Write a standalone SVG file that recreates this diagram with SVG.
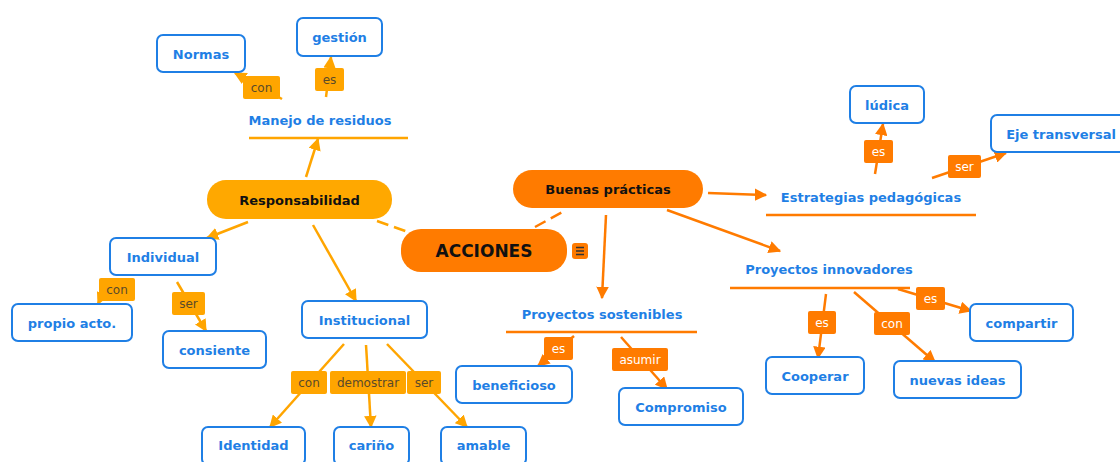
<svg xmlns="http://www.w3.org/2000/svg" width="1120" height="462" viewBox="0 0 1120 462">
<defs>
<style>
.box{fill:#fff;stroke:#1f7fe5;stroke-width:2}
.bt{font-family:"DejaVu Sans",Verdana,sans-serif;font-weight:bold;font-size:13px;fill:#1f7fe5;text-anchor:middle;dominant-baseline:central}
.la{fill:#ffa500}
.lo{fill:#ff7b00}
.lta{font-family:"DejaVu Sans",Verdana,sans-serif;font-size:12px;fill:#5a4a2a;text-anchor:middle;dominant-baseline:central}
.lto{font-family:"DejaVu Sans",Verdana,sans-serif;font-size:12px;fill:#fff;text-anchor:middle;dominant-baseline:central}
.ca{stroke:#ffa500;stroke-width:2.5;fill:none}
.co{stroke:#ff7b00;stroke-width:2.5;fill:none}
.aa{marker-end:url(#ma)}
.ao{marker-end:url(#mo)}
.da{stroke-dasharray:12,6}
</style>
<marker id="ma" viewBox="0 0 10 10" refX="9" refY="5" markerWidth="5" markerHeight="5" orient="auto" markerUnits="strokeWidth"><path d="M0,0 L10,5 L0,10 Z" fill="#ffa500"/></marker>
<marker id="mo" viewBox="0 0 10 10" refX="9" refY="5" markerWidth="5" markerHeight="5" orient="auto" markerUnits="strokeWidth"><path d="M0,0 L10,5 L0,10 Z" fill="#ff7b00"/></marker>
</defs>
<rect width="1120" height="462" fill="#fff"/>
<g id="connectors">
<line class="ca da" x1="377" y1="221" x2="408" y2="232"/>
<line class="co da" x1="535" y1="227" x2="566" y2="210"/>
<line class="ca aa" x1="306" y1="177" x2="318" y2="139"/>
<line class="ca" x1="249" y1="138" x2="408" y2="138"/>
<line class="ca aa" x1="282" y1="99" x2="235" y2="73"/>
<line class="ca aa" x1="326" y1="97" x2="331" y2="57"/>
<line class="ca aa" x1="248" y1="222" x2="207" y2="238"/>
<line class="ca aa" x1="108" y1="282" x2="98" y2="304"/>
<line class="ca aa" x1="177" y1="282" x2="206" y2="331"/>
<line class="ca aa" x1="313" y1="225" x2="356" y2="301"/>
<line class="ca aa" x1="344" y1="344" x2="270" y2="427"/>
<line class="ca aa" x1="366" y1="345" x2="371" y2="427"/>
<line class="ca aa" x1="387" y1="344" x2="467" y2="427"/>
<line class="co ao" x1="708" y1="193" x2="766" y2="195"/>
<line class="co" x1="766" y1="215" x2="976" y2="215"/>
<line class="co ao" x1="875" y1="174" x2="883" y2="124"/>
<line class="co ao" x1="932" y1="178" x2="1006" y2="153"/>
<line class="co ao" x1="606" y1="215" x2="602" y2="298"/>
<line class="co" x1="506" y1="332" x2="697" y2="332"/>
<line class="co ao" x1="574" y1="336" x2="538" y2="366"/>
<line class="co ao" x1="621" y1="337" x2="667" y2="389"/>
<line class="co ao" x1="667" y1="210" x2="780" y2="251"/>
<line class="co" x1="730" y1="288" x2="910" y2="288"/>
<line class="co ao" x1="826" y1="294" x2="818" y2="358"/>
<line class="co ao" x1="854" y1="292" x2="935" y2="362"/>
<line class="co ao" x1="898" y1="289" x2="971" y2="311"/>
<rect class="la" x="243" y="76" width="37" height="23" rx="2"/><text class="lta" x="261.5" y="88">con</text>
<rect class="la" x="315" y="68" width="29" height="23" rx="2"/><text class="lta" x="329.5" y="80">es</text>
<rect class="la" x="99" y="278" width="36" height="23" rx="2"/><text class="lta" x="117" y="290">con</text>
<rect class="la" x="172" y="292" width="33" height="23" rx="2"/><text class="lta" x="188.5" y="304">ser</text>
<rect class="la" x="291" y="371" width="36" height="23" rx="2"/><text class="lta" x="309" y="383">con</text>
<rect class="la" x="330" y="371" width="76" height="23" rx="2"/><text class="lta" x="368" y="383">demostrar</text>
<rect class="la" x="407" y="371" width="34" height="23" rx="2"/><text class="lta" x="424" y="383">ser</text>
<rect class="lo" x="864" y="140" width="29" height="23" rx="2"/><text class="lto" x="878.5" y="152">es</text>
<rect class="lo" x="948" y="155" width="33" height="23" rx="2"/><text class="lto" x="964.5" y="167">ser</text>
<rect class="lo" x="544" y="337" width="29" height="23" rx="2"/><text class="lto" x="558.5" y="349">es</text>
<rect class="lo" x="612" y="348" width="56" height="23" rx="2"/><text class="lto" x="640" y="360">asumir</text>
<rect class="lo" x="808" y="311" width="28" height="23" rx="2"/><text class="lto" x="822" y="323">es</text>
<rect class="lo" x="874" y="312" width="36" height="23" rx="2"/><text class="lto" x="892" y="324">con</text>
<rect class="lo" x="916" y="287" width="29" height="23" rx="2"/><text class="lto" x="930.5" y="299">es</text>
</g>
<g id="acciones">
<rect x="401" y="229" width="166" height="43" rx="20" fill="#ff7b00"/>
<text x="484" y="251" font-family="'DejaVu Sans',Verdana,sans-serif" font-weight="bold" font-size="17" fill="#111" text-anchor="middle" dominant-baseline="central">ACCIONES</text>
<rect x="572" y="243" width="16" height="16" rx="3" fill="#ff7b00"/>
<path d="M576,247.5h8M576,251h8M576,254.5h8" stroke="#333" stroke-width="1.5"/>
</g>
<g id="responsabilidad">
<rect x="207" y="180" width="185" height="39" rx="19" fill="#ffa800"/>
<text x="299.5" y="200" font-family="'DejaVu Sans',Verdana,sans-serif" font-weight="bold" font-size="13" fill="#111" text-anchor="middle" dominant-baseline="central">Responsabilidad</text>
</g>
<g id="buenas">
<rect x="513" y="170" width="190" height="38" rx="19" fill="#ff7b00"/>
<text x="608" y="189" font-family="'DejaVu Sans',Verdana,sans-serif" font-weight="bold" font-size="13" fill="#111" text-anchor="middle" dominant-baseline="central">Buenas prácticas</text>
</g>
<g id="manejo"><text class="bt" x="320" y="120">Manejo de residuos</text></g>
<g id="normas"><rect class="box" x="157" y="35" width="88" height="37" rx="6"/><text class="bt" x="201" y="54">Normas</text></g>
<g id="gestion"><rect class="box" x="297" y="18" width="85" height="38" rx="6"/><text class="bt" x="339.5" y="37">gestión</text></g>
<g id="individual"><rect class="box" x="110" y="238" width="106" height="37" rx="6"/><text class="bt" x="163" y="257">Individual</text></g>
<g id="propio"><rect class="box" x="12" y="304" width="120" height="37" rx="6"/><text class="bt" x="72" y="323">propio acto.</text></g>
<g id="consiente"><rect class="box" x="163" y="331" width="103" height="37" rx="6"/><text class="bt" x="214.5" y="350">consiente</text></g>
<g id="institucional"><rect class="box" x="302" y="301" width="125" height="37" rx="6"/><text class="bt" x="364.5" y="320">Institucional</text></g>
<g id="identidad"><rect class="box" x="202" y="427" width="103" height="38" rx="6"/><text class="bt" x="253.5" y="445">Identidad</text></g>
<g id="carino"><rect class="box" x="334" y="427" width="75" height="38" rx="6"/><text class="bt" x="371.5" y="445">cariño</text></g>
<g id="amable"><rect class="box" x="441" y="427" width="85" height="38" rx="6"/><text class="bt" x="483.5" y="445">amable</text></g>
<g id="estrategias"><text class="bt" x="871" y="197">Estrategias pedagógicas</text></g>
<g id="ludica"><rect class="box" x="850" y="86" width="74" height="37" rx="6"/><text class="bt" x="887" y="105">lúdica</text></g>
<g id="eje"><rect class="box" x="991" y="115" width="140" height="37" rx="6"/><text class="bt" x="1061" y="134">Eje transversal</text></g>
<g id="sostenibles"><text class="bt" x="602" y="314">Proyectos sostenibles</text></g>
<g id="beneficioso"><rect class="box" x="456" y="366" width="116" height="37" rx="6"/><text class="bt" x="514" y="385">beneficioso</text></g>
<g id="compromiso"><rect class="box" x="619" y="388" width="124" height="37" rx="6"/><text class="bt" x="681" y="407">Compromiso</text></g>
<g id="innovadores"><text class="bt" x="829" y="269">Proyectos innovadores</text></g>
<g id="cooperar"><rect class="box" x="766" y="357" width="98" height="37" rx="6"/><text class="bt" x="815" y="376">Cooperar</text></g>
<g id="nuevas"><rect class="box" x="894" y="361" width="127" height="37" rx="6"/><text class="bt" x="957.5" y="380">nuevas ideas</text></g>
<g id="compartir"><rect class="box" x="970" y="304" width="103" height="37" rx="6"/><text class="bt" x="1021.5" y="323">compartir</text></g>
</svg>
